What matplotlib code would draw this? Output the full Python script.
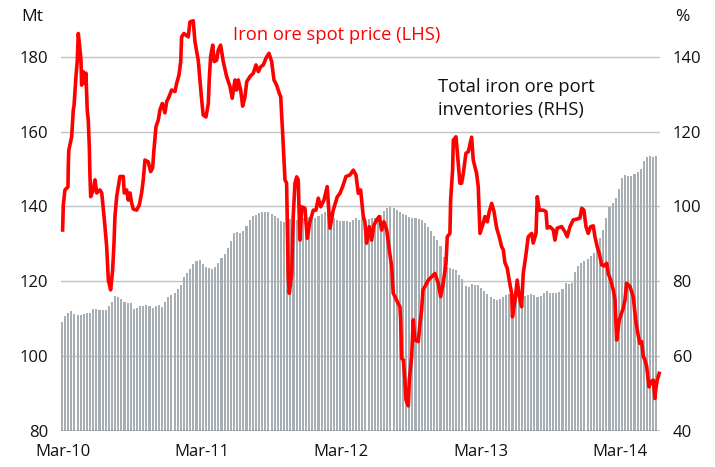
import numpy as np
import matplotlib
matplotlib.use("Agg")
import matplotlib.pyplot as plt

plt.rcParams['font.family'] = ['Open Sans', 'DejaVu Sans']

# x axis: months since Mar-2010
tick_months = [0, 12, 24, 36, 48]
tick_labels = ['Mar-10', 'Mar-11', 'Mar-12', 'Mar-13', 'Mar-14']

# Total iron ore port inventories (RHS), roughly weekly from Mar-10 to Jun-14
inventory = [
    69.1, 70.7, 71.5, 72.1, 71.3, 70.9, 70.9, 71.3, 71.5, 71.5,
    72.6, 72.6, 72.3, 72.3, 72.3, 73.4, 74.5, 76.1, 75.8, 75.3,
    74.5, 74.3, 74.2, 72.5, 72.9, 73.4, 73.5, 73.7, 73.4, 72.9,
    73.4, 73.7, 73.1, 74.5, 75.8, 76.3, 77.0, 77.9, 79.0, 81.1,
    82.2, 83.3, 84.5, 85.4, 85.7, 84.6, 83.8, 83.5, 83.3, 83.8,
    84.9, 86.1, 87.3, 88.9, 90.8, 92.9, 93.2, 92.8, 93.4, 94.8,
    96.4, 97.4, 97.7, 98.2, 98.5, 98.5, 98.4, 98.0, 97.4, 96.9,
    96.2, 95.8, 96.4, 96.6, 96.1, 96.4, 96.6, 96.9, 97.2, 97.2,
    96.9, 97.0, 97.4, 98.0, 98.5, 99.0, 98.4, 96.9, 96.4, 96.2,
    96.1, 96.2, 95.8, 96.4, 96.8, 96.4, 96.9, 96.6, 96.6, 96.9,
    97.0, 97.2, 97.6, 98.8, 99.7, 99.8, 99.6, 99.0, 98.5, 98.1,
    97.7, 97.3, 96.9, 96.9, 96.6, 96.4, 95.7, 94.5, 93.4, 92.1,
    91.0, 89.4, 86.5, 83.8, 83.5, 83.4, 83.0, 81.7, 80.6, 78.7,
    78.5, 79.3, 79.1, 78.9, 78.2, 77.4, 76.6, 75.8, 75.3, 75.0,
    75.3, 75.8, 76.3, 76.6, 76.6, 76.3, 76.3, 76.6, 76.1, 76.3,
    76.6, 76.3, 75.8, 76.1, 76.9, 77.4, 76.9, 76.9, 76.9, 77.1,
    77.9, 79.5, 79.3, 79.5, 82.5, 84.0, 84.9, 85.4, 86.0, 86.8,
    87.6, 88.9, 91.6, 93.7, 96.9, 99.8, 100.9, 102.2, 104.7, 107.6,
    108.5, 108.1, 108.1, 108.7, 109.2, 110.0, 112.1, 113.2, 113.5, 113.2,
    113.5,
]
inv_first_month = -0.09
inv_last_month = 51.16

# Iron ore spot price (LHS)
price_month = [
    -0.03, 0.03, 0.17, 0.43, 0.46, 0.50, 0.75, 0.89, 0.95, 1.12,
    1.23, 1.32, 1.47, 1.55, 1.61, 1.75, 1.90, 1.98, 2.09, 2.18,
    2.27, 2.33, 2.39, 2.61, 2.76, 2.91, 3.19, 3.34, 3.47, 3.62,
    3.77, 3.91, 4.11, 4.28, 4.40, 4.48, 4.63, 4.77, 4.91, 5.20,
    5.28, 5.49, 5.63, 5.78, 5.92, 6.06, 6.35, 6.58, 6.78, 6.92,
    7.07, 7.35, 7.56, 7.73, 7.84, 8.02, 8.22, 8.36, 8.56, 8.79,
    8.94, 9.14, 9.37, 9.66, 9.80, 10.00, 10.15, 10.23, 10.43, 10.80,
    10.95, 11.23, 11.38, 11.66, 11.81, 11.96, 12.09, 12.33, 12.53, 12.61,
    12.73, 12.91, 13.04, 13.25, 13.39, 13.59, 13.82, 14.11, 14.40, 14.59,
    14.83, 14.97, 15.11, 15.32, 15.49, 15.69, 15.84, 16.12, 16.41, 16.64,
    16.84, 17.04, 17.27, 17.50, 17.76, 17.99, 18.19, 18.42, 18.65, 18.77,
    18.94, 19.14, 19.28, 19.42, 19.51, 19.72, 19.85, 20.00, 20.15, 20.28,
    20.43, 20.58, 20.86, 21.06, 21.29, 21.58, 21.81, 22.01, 22.22, 22.50,
    22.78, 23.02, 23.30, 23.65, 23.88, 24.11, 24.40, 24.74, 25.03, 25.26,
    25.46, 25.66, 25.89, 26.03, 26.18, 26.41, 26.61, 26.81, 27.04, 27.27,
    27.47, 27.67, 27.91, 28.13, 28.34, 28.47, 28.68, 28.91, 29.05, 29.11,
    29.20, 29.34, 29.48, 29.57, 29.77, 29.86, 30.06, 30.20, 30.34, 30.63,
    30.78, 30.92, 31.03, 31.21, 31.49, 31.78, 32.07, 32.35, 32.56, 32.78,
    33.02, 33.13, 33.36, 33.42, 33.59, 33.65, 33.88, 34.03, 34.22, 34.37,
    34.51, 34.74, 34.94, 35.23, 35.37, 35.66, 35.80, 35.95, 36.23, 36.38,
    36.58, 36.75, 36.96, 37.16, 37.39, 37.61, 37.82, 37.96, 38.10, 38.30,
    38.47, 38.68, 38.75, 38.97, 39.16, 39.34, 39.54, 39.68, 39.89, 40.11,
    40.41, 40.54, 40.78, 40.89, 41.06, 41.41, 41.64, 41.75, 41.98, 42.27,
    42.41, 42.61, 42.99, 43.28, 43.47, 43.71, 43.99, 44.28, 44.57, 44.72,
    44.91, 45.09, 45.28, 45.49, 45.72, 45.86, 46.06, 46.23, 46.44, 46.64,
    46.87, 47.01, 47.22, 47.44, 47.59, 47.73, 47.96, 48.30, 48.45, 48.59,
    48.88, 49.16, 49.40, 49.59, 49.74, 49.89, 50.03, 50.17, 50.32, 50.52,
    50.69, 50.89, 51.03, 51.12, 51.23, 51.40,
]
price = [
    133.7, 140.4, 144.4, 145.2, 151.0, 155.0, 158.6, 165.8, 166.8, 174.7,
    178.7, 186.2, 181.8, 179.1, 172.4, 176.0, 173.0, 175.6, 165.8, 163.1,
    156.0, 147.9, 142.6, 144.4, 147.1, 143.6, 144.4, 143.6, 139.6, 134.6,
    129.2, 120.3, 117.7, 123.0, 130.2, 137.3, 142.6, 145.3, 148.0, 148.0,
    143.6, 144.4, 141.7, 143.6, 140.9, 139.3, 139.0, 140.4, 143.6, 147.0,
    152.4, 151.9, 149.3, 150.3, 155.0, 161.3, 163.1, 165.8, 167.5, 165.0,
    168.0, 169.3, 171.1, 170.7, 172.9, 175.1, 178.7, 185.3, 186.2, 185.3,
    189.3, 189.6, 184.0, 179.1, 173.8, 168.4, 164.4, 163.9, 167.5, 173.8,
    180.1, 183.1, 178.7, 179.1, 181.8, 183.1, 178.7, 174.7, 172.0, 168.9,
    173.8, 171.1, 173.8, 171.1, 166.8, 169.3, 173.3, 174.7, 175.6, 177.8,
    176.0, 177.3, 177.8, 179.6, 180.9, 178.7, 173.8, 172.4, 170.2, 169.3,
    159.5, 147.1, 146.2, 121.2, 116.8, 122.1, 137.3, 146.2, 147.9, 147.1,
    131.0, 139.9, 139.5, 131.5, 135.9, 139.0, 139.0, 142.2, 139.9, 141.7,
    145.3, 134.2, 139.0, 142.6, 143.5, 145.3, 148.0, 148.4, 149.7, 148.4,
    143.5, 144.4, 137.3, 135.9, 130.2, 134.6, 131.0, 135.0, 136.4, 137.3,
    133.7, 135.9, 133.7, 128.4, 123.9, 116.8, 115.5, 114.0, 113.2, 109.7,
    99.4, 99.0, 93.6, 88.3, 86.7, 93.6, 99.9, 109.7, 104.3, 103.9,
    108.8, 112.3, 117.7, 118.6, 120.3, 121.2, 122.1, 119.5, 115.9, 119.5,
    124.8, 131.9, 132.8, 141.7, 149.7, 157.7, 158.6, 153.3, 146.2, 146.2,
    148.8, 154.2, 154.6, 158.5, 152.4, 148.8, 145.3, 132.8, 135.5, 137.3,
    135.9, 138.6, 140.8, 138.6, 134.2, 131.9, 129.2, 128.4, 125.0, 123.5,
    120.3, 116.8, 110.5, 115.0, 120.3, 115.9, 113.2, 122.1, 126.6, 131.9,
    132.8, 130.2, 132.8, 142.6, 139.0, 139.0, 138.6, 134.2, 134.6, 133.7,
    131.0, 134.2, 134.6, 133.2, 131.9, 134.6, 136.4, 136.6, 136.9, 139.5,
    139.0, 134.6, 132.8, 134.6, 134.8, 131.9, 129.2, 127.5, 124.4, 124.1,
    124.8, 122.1, 120.3, 117.7, 115.0, 104.3, 109.7, 112.8, 115.0, 119.5,
    118.6, 115.9, 109.0, 105.6, 103.4, 103.9, 99.9, 99.0, 97.2, 91.8,
    93.2, 93.6, 88.7, 91.4, 93.6, 95.4,
]

left_ticks = [80, 100, 120, 140, 160, 180]
right_ticks = [40, 60, 80, 100, 120, 140]

BAR_GREY = '#a8afb4'
GRID_GREY = '#bfc3c6'
RED = '#ff0000'

fig = plt.figure(figsize=(7.15, 4.67), dpi=100)
ax = fig.add_axes([61 / 715, 1 - 431 / 467, 599 / 715, (431 - 11.8) / 467])
ax2 = ax.twinx()

# bars on the right axis, line on the left axis drawn on top
bar_x = np.linspace(inv_first_month, inv_last_month, len(inventory))
ax2.bar(bar_x, np.array(inventory) - 40, bottom=40, width=0.18,
        color=BAR_GREY, linewidth=0, zorder=2)
ax2.set_ylim(40, 152)
ax2.set_yticks(right_ticks)
ax2.grid(axis='y', color=GRID_GREY, linewidth=1.0, zorder=0)
ax2.set_axisbelow(True)

ax.set_zorder(ax2.get_zorder() + 1)
ax.patch.set_visible(False)
ax.plot(price_month, price, color=RED, linewidth=2.6, solid_joinstyle='round',
        clip_on=False, zorder=3)
ax.set_ylim(80, 192)
ax.set_yticks(left_ticks)
ax.set_xlim(-0.17, 51.47)
ax.set_xticks(tick_months)
ax.set_xticklabels(tick_labels)

for a in (ax, ax2):
    for s in ('top', 'left', 'right', 'bottom'):
        a.spines[s].set_visible(False)
    a.tick_params(length=0, labelsize=12, colors='#111111')
ax.tick_params(axis='y', pad=9)
ax2.tick_params(axis='y', pad=9)
ax.tick_params(axis='x', pad=9)
ax2.axhline(40, color='#333333', linewidth=1.0, zorder=4)

fig.text(32 / 715, 1 - 17 / 467, 'Mt', ha='center', va='center', fontsize=12.5, color='#111111')
fig.text(682 / 715, 1 - 17 / 467, '%', ha='center', va='center', fontsize=12.5, color='#111111')
fig.text(233 / 715, 1 - 40 / 467, 'Iron ore spot price (LHS)', ha='left', va='baseline',
         fontsize=13.2, color=RED)
fig.text(438 / 715, 1 - 92 / 467, 'Total iron ore port', ha='left', va='baseline',
         fontsize=13.2, color='#111111')
fig.text(438 / 715, 1 - 115 / 467, 'inventories (RHS)', ha='left', va='baseline',
         fontsize=13.2, color='#111111')

fig.savefig('out.png', dpi=100)
